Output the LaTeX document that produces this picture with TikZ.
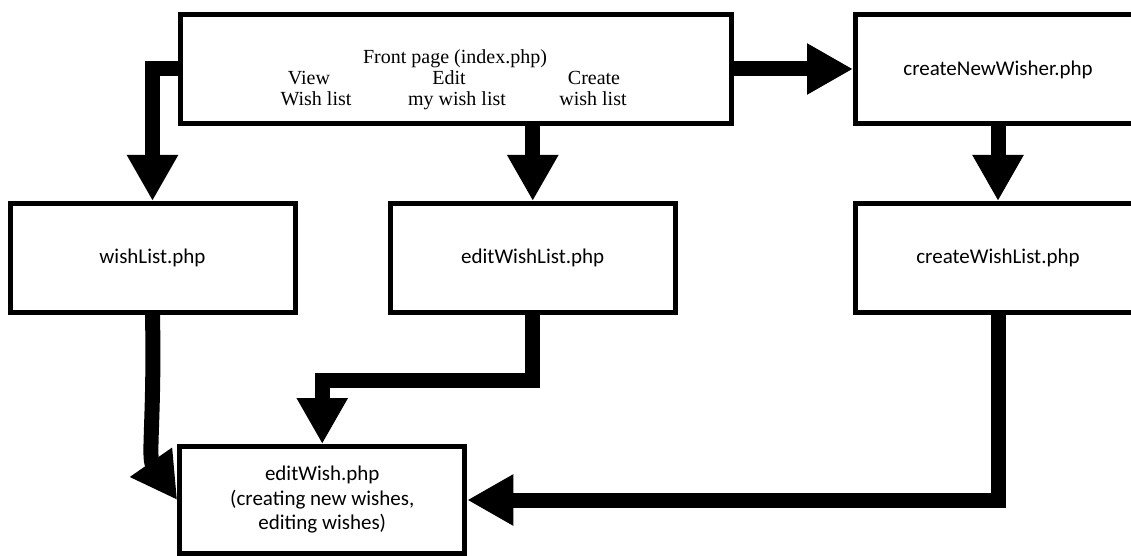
\documentclass[tikz,border=0pt]{standalone}
\usepackage{fontspec}
\setmainfont{Liberation Serif}
\newfontfamily\calib{Carlito}
\usetikzlibrary{arrows.meta,calc}
\begin{document}
\begin{tikzpicture}[x=1pt,y=-1pt,
  box/.style={draw,line width=5pt,minimum width=285pt,minimum height=109pt,inner sep=0pt,
    font=\calib\fontsize{21}{24.5}\selectfont,align=center},
  conn/.style={line width=15pt,line join=miter,-{Triangle[length=46pt,width=48pt]}},
  ftext/.style={font=\fontsize{20}{20}\selectfont,inner sep=0pt,anchor=base}]
\useasboundingbox (0,0) rectangle (1131,556);
% boxes
\node[box,minimum width=551pt] (front) at (455.5,69) {};
\node[box] (cnw) at (998,69.5) {createNewWisher.php};
\node[box] (wl) at (152.5,258) {wishList.php};
\node[box] (ewl) at (532.75,258) {editWishList.php};
\node[box] (cwl) at (998,258) {createWishList.php};
\node[box,minimum height=107pt] (ew) at (322.25,500) {editWish.php\\(creating new wishes,\\editing wishes)};
% front page text
\node[ftext] (ftitle) at (455,64) {Front page (index.php)};
\node[ftext] (fview1) at (309,85) {View};
\node[ftext] (fview2) at (316,106) {Wish list};
\node[ftext] (fedit1) at (449,85) {Edit};
\node[ftext] (fedit2) at (457,106) {my wish list};
\node[ftext] (fcreate1) at (594,85) {Create};
\node[ftext] (fcreate2) at (593,106) {wish list};
% helper coordinate
\coordinate (bend) at (0,380);
% connectors
\draw[conn] (front.east) -- (front.east -| cnw.west);
\draw[conn] (front.west) -| (wl.north);
\draw[conn] (front.south -| ewl.north) -- (ewl.north);
\draw[conn] (cnw.south) -- (cwl.north);
\draw[conn] (ewl.south) -- (ewl.south |- bend) -| (ew.north);
\draw[conn] (cwl.south) |- (ew.east);
\draw[conn] (wl.south) .. controls ($(wl.south)+(2,100)$) and (148,458) .. (ew.west);
\end{tikzpicture}
\end{document}
